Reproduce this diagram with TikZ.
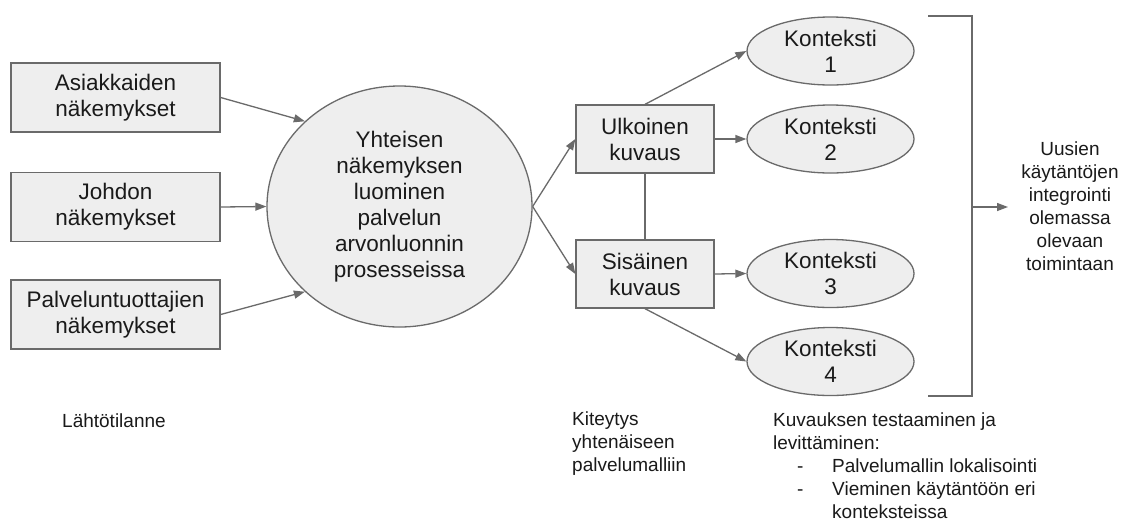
\documentclass[tikz,border=0pt]{standalone}
\usepackage{fontspec}
\setmainfont{Liberation Sans}
\usetikzlibrary{arrows.meta,shapes.geometric}
\definecolor{linec}{HTML}{6A6A6A}
\definecolor{fillc}{HTML}{EEEEEE}
\definecolor{txt}{HTML}{1A1A1A}
\tikzset{
  box/.style={draw=linec, fill=fillc, line width=1.3pt, inner sep=0pt, align=center,
    text=txt, font=\fontsize{22.5}{26}\selectfont},
  oval/.style={ellipse, draw=linec, fill=fillc, line width=1.3pt, inner sep=0pt, align=center,
    text=txt, font=\fontsize{22.5}{26}\selectfont, minimum width=167pt, minimum height=68pt},
  conn/.style={draw=linec, line width=1.3pt, -{Triangle[length=11pt,width=8pt]}},
  plain/.style={draw=linec, line width=1.3pt},
  note/.style={text=txt, inner sep=0pt, font=\fontsize{19}{23}\selectfont},
}
\begin{document}
\begin{tikzpicture}[x=1pt,y=-1pt]
\useasboundingbox[fill=white] (0,0) rectangle (1123,523);

% left boxes
\node[box, minimum width=209pt, minimum height=69pt] (b1) at (115.5,97.5) {Asiakkaiden\\näkemykset};
\node[box, minimum width=209pt, minimum height=69pt] (b2) at (115.5,207) {Johdon\\näkemykset};
\node[box, minimum width=209pt, minimum height=69pt] (b3) at (115.5,314.5) {Palveluntuottajien\\näkemykset};

% central ellipse
\node[oval, minimum width=265pt, minimum height=241pt] (c) at (399.5,206.5)
  {Yhteisen\\näkemyksen\\luominen\\palvelun\\arvonluonnin\\prosesseissa};

% middle boxes
\node[box, minimum width=138pt, minimum height=68pt] (u) at (645,139) {Ulkoinen\\kuvaus};
\node[box, minimum width=138pt, minimum height=68pt] (s) at (645,274) {Sisäinen\\kuvaus};

% contexts
\node[oval] (k1) at (830.5,51) {Konteksti\\1};
\node[oval] (k2) at (830.5,139) {Konteksti\\2};
\node[oval] (k3) at (830.5,273.5) {Konteksti\\3};
\node[oval] (k4) at (830.5,361.5) {Konteksti\\4};

% connectors
\draw[conn] (b1.east) -- (c.138);
\draw[conn] (b2.east) -- (c.west);
\draw[conn] (b3.east) -- (c.222);
\draw[conn] (c.east) -- (u.west);
\draw[conn] (c.east) -- (s.west);
\draw[plain] (u.south) -- (s.north);
\draw[conn] (u.north) -- (k1.west);
\draw[conn] (u.east) -- (k2.west);
\draw[conn] (s.east) -- (k3.west);
\draw[conn] (s.south) -- (k4.west);

% bracket
\coordinate (bt) at (928,16);
\coordinate (bb) at (928,396);
\coordinate (bm) at (972,207);
\coordinate (tip) at (1008,207);
\draw[plain] (bt) -| (972,396) -- (bb);
\draw[conn] (bm) -- (tip);

\node[note, align=center] (res) at (1070,206) {Uusien\\käytäntöjen\\integrointi\\olemassa\\olevaan\\toimintaan};

% bottom notes
\node[note, anchor=west] (l1) at (62,421) {Lähtötilanne};
\node[note, anchor=north west, align=left] (l2) at (572,412) {Kiteytys\\yhtenäiseen\\palvelumalliin};
\node[note, anchor=north west, align=left] (l3) at (773,413) {Kuvauksen testaaminen ja\\levittäminen:\\
\hspace*{24pt}\makebox[35pt][l]{-}Palvelumallin lokalisointi\\
\hspace*{24pt}\makebox[35pt][l]{-}Vieminen käytäntöön eri\\
\hspace*{59pt}konteksteissa};
\end{tikzpicture}
\end{document}
